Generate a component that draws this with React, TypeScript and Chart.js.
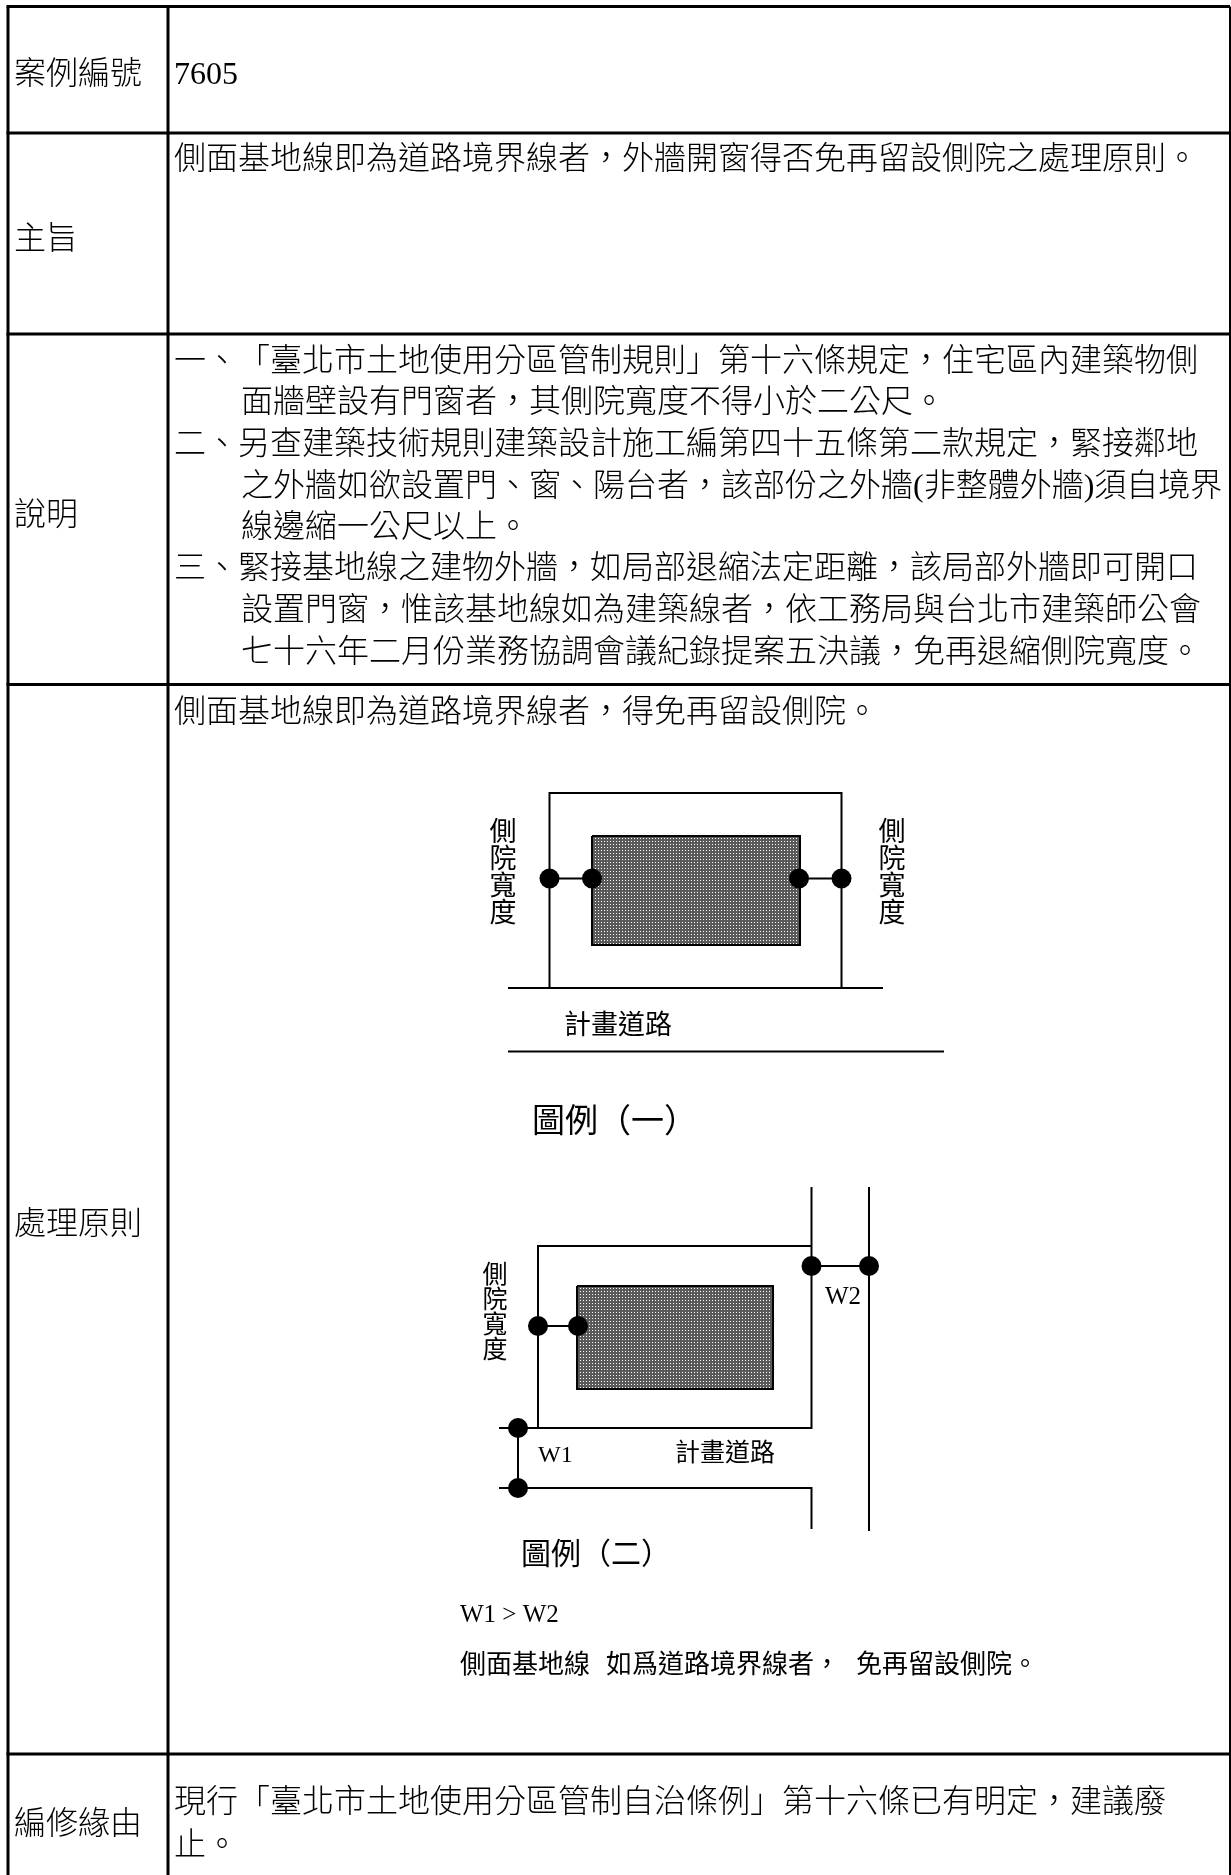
import React, { useEffect, useRef } from "react";
import { Chart, registerables } from "chart.js";

Chart.register(...registerables);

const PAGE_W = 1231;
const PAGE_H = 1875;
const BODY_FONT = '300 32px "Liberation Serif", "Noto Sans CJK TC"';
const DIAGRAM = '"Liberation Serif", "Noto Sans CJK TC"';
const TEXT_NUDGE = 3.5;

type P = [number, number];
type T = [string, number, number];

// table rules
const tableRows: number[] = [6.5, 133, 334, 684.5, 1754];
const tableCols: number[] = [8, 168, 1230];

// body text [string, x, y]
const rowLabels: T[] = [
  ["案例編號", 14, 72],
  ["主旨", 14, 237],
  ["說明", 14, 513],
  ["處理原則", 14, 1222],
  ["編修緣由", 14, 1822],
];
const bodyLines: T[] = [
  ["7605", 174, 72],
  ["側面基地線即為道路境界線者，外牆開窗得否免再留設側院之處理原則。", 174, 157],
  ["一、", 174, 359],
  ["「臺北市土地使用分區管制規則」第十六條規定，住宅區內建築物側", 238, 359],
  ["面牆壁設有門窗者，其側院寬度不得小於二公尺。", 241, 400],
  ["二、另查建築技術規則建築設計施工編第四十五條第二款規定，緊接鄰地", 174, 442],
  ["之外牆如欲設置門、窗、陽台者，該部份之外牆(非整體外牆)須自境界", 241, 484],
  ["線邊縮一公尺以上。", 241, 525],
  ["三、緊接基地線之建物外牆，如局部退縮法定距離，該局部外牆即可開口", 174, 566],
  ["設置門窗，惟該基地線如為建築線者，依工務局與台北市建築師公會", 241, 608],
  ["七十六年二月份業務協調會議紀錄提案五決議，免再退縮側院寬度。", 241, 650],
  ["側面基地線即為道路境界線者，得免再留設側院。", 174, 710],
  ["現行「臺北市土地使用分區管制自治條例」第十六條已有明定，建議廢", 174, 1800],
  ["止。", 174, 1843],
];

// diagram one
const frameOne: P[] = [[549.5, 988], [549.5, 793], [841.5, 793], [841.5, 988]];
const roadOneNear: P[] = [[508, 988], [883, 988]];
const roadOneFar: P[] = [[508, 1051.5], [944, 1051.5]];
const buildingOne: P[] = [[592, 836], [800, 836], [800, 945], [592, 945], [592, 836]];
const yardOneLeft: P[] = [[549.5, 878.5], [592, 878.5]];
const yardOneRight: P[] = [[799, 878.5], [841.5, 878.5]];
const dotsOne: P[] = [[549.5, 878.5], [592, 878.5], [799, 878.5], [841.5, 878.5]];

// diagram two
const frameTwo: P[] = [[538, 1428], [538, 1246], [811.5, 1246]];
const roadTwoInnerTop: P[] = [[811.5, 1187], [811.5, 1428], [499, 1428]];
const roadTwoInnerBottom: P[] = [[499, 1488], [811.5, 1488], [811.5, 1529]];
const roadTwoOuter: P[] = [[869, 1187], [869, 1531]];
const buildingTwo: P[] = [[577, 1286], [773, 1286], [773, 1389], [577, 1389], [577, 1286]];
const yardTwo: P[] = [[538, 1326], [578, 1326]];
const widthOne: P[] = [[518, 1428], [518, 1488]];
const widthTwo: P[] = [[811.5, 1266], [869, 1266]];
const dotsTwo: P[] = [[538, 1326], [578, 1326], [518, 1428], [518, 1488], [811.5, 1266], [869, 1266]];

// diagram text [string, x, y, size]
const diagramText: [string, number, number, number][] = [
  ["計畫道路", 564, 1023, 27],
  ["圖例（一）", 532, 1120, 33],
  ["W2", 825, 1294, 25],
  ["W1", 538, 1452, 24],
  ["計畫道路", 675, 1451, 25],
  ["圖例（二）", 521, 1553, 30],
  ["W1 > W2", 460, 1612, 25],
  ["側面基地線", 460, 1663, 26],
  ["如爲道路境界線者，", 606, 1663, 26],
  ["免再留設側院。", 856, 1663, 26],
];
const verticalText: [string, number, number, number][] = [
  ["側院寬度", 503, 830, 27],
  ["側院寬度", 892, 830, 27],
  ["側院寬度", 495, 1273, 25],
];

function checker(): CanvasPattern | string {
  const c = document.createElement("canvas");
  c.width = 3;
  c.height = 3;
  const g = c.getContext("2d")!;
  g.fillStyle = "#5a5a5a";
  g.fillRect(0, 0, 3, 3);
  g.fillStyle = "#ffffff";
  g.fillRect(1, 1, 1, 1);
  return g.createPattern(c, "repeat") ?? "#6a6a6a";
}

const toXY = (pts: P[]) => pts.map(([x, y]) => ({ x, y }));

const stroke = (pts: P[], width = 2) => ({
  type: "line" as const,
  data: toXY(pts),
  borderColor: "#000",
  borderWidth: width,
  pointRadius: 0,
  fill: false,
  tension: 0,
  borderJoinStyle: "miter" as const,
});

const dots = (pts: P[]) => ({
  type: "scatter" as const,
  data: toXY(pts),
  backgroundColor: "#000",
  borderColor: "#000",
  pointStyle: "circle" as const,
  pointRadius: 10,
  borderWidth: 0,
  showLine: false,
});

const textPlugin = {
  id: "documentText",
  afterDatasetsDraw(chart: any) {
    const { ctx, scales } = chart;
    const X = (v: number) => scales.x.getPixelForValue(v);
    const Y = (v: number) => scales.y.getPixelForValue(v) + TEXT_NUDGE;
    ctx.save();
    ctx.fillStyle = "#000";
    ctx.textBaseline = "middle";
    ctx.textAlign = "left";
    ctx.fontKerning = "none";
    ctx.font = BODY_FONT;
    [...rowLabels, ...bodyLines].forEach(([s, x, y]) => ctx.fillText(s, X(x), Y(y)));
    diagramText.forEach(([s, x, y, size]) => {
      ctx.font = `${size}px ${DIAGRAM}`;
      ctx.fillText(s, X(x), Y(y));
    });
    ctx.textAlign = "center";
    verticalText.forEach(([s, x, y, size]) => {
      ctx.font = `${size}px ${DIAGRAM}`;
      Array.from(s).forEach((ch, i) => ctx.fillText(ch, X(x), Y(y + i * size)));
    });
    ctx.restore();
  },
};

export default function App() {
  const ref = useRef<HTMLCanvasElement>(null);
  useEffect(() => {
    document.body.style.margin = "0";
    const pattern = checker();
    const building = (pts: P[]) => ({
      ...stroke(pts, 2),
      fill: "shape",
      backgroundColor: pattern,
    });
    const rules: P[][] = [
      ...tableRows.map((y): P[] => [[tableCols[0] - 1.5, y], [tableCols[2], y]]),
      ...tableCols.map((x): P[] => [[x, tableRows[0]], [x, PAGE_H]]),
    ];
    // Chart.js paints the first dataset last, so the dots come first.
    const chart = new Chart(ref.current!, {
      type: "line",
      data: {
        datasets: [
          dots(dotsTwo),
          dots(dotsOne),
          stroke(widthTwo),
          stroke(widthOne),
          stroke(yardTwo),
          stroke(roadTwoOuter),
          stroke(roadTwoInnerBottom),
          stroke(roadTwoInnerTop),
          stroke(frameTwo),
          building(buildingTwo),
          stroke(yardOneRight),
          stroke(yardOneLeft),
          stroke(roadOneFar),
          stroke(roadOneNear),
          stroke(frameOne),
          building(buildingOne),
          ...rules.map((r, i) => stroke(r, i === rules.length - 1 ? 2 : 3)),
        ] as any,
      },
      options: {
        responsive: false,
        animation: false,
        events: [],
        layout: { padding: 0, autoPadding: false },
        plugins: { legend: { display: false }, tooltip: { enabled: false }, title: { display: false } },
        scales: {
          x: { type: "linear", min: 0, max: PAGE_W, display: false },
          y: { type: "linear", min: 0, max: PAGE_H, reverse: true, display: false },
        },
      },
      plugins: [textPlugin],
    });
    return () => chart.destroy();
  }, []);
  return (
    <canvas
      ref={ref}
      width={PAGE_W}
      height={PAGE_H}
      style={{ position: "absolute", left: 0, top: 0, display: "block" }}
    />
  );
}
